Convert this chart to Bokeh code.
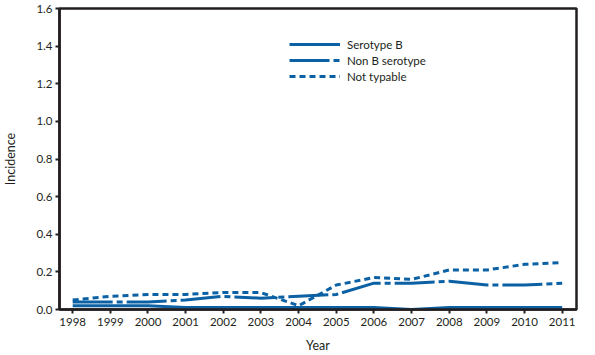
from bokeh.plotting import figure
from bokeh.models import Range1d, FixedTicker, Legend, LegendItem, NumeralTickFormatter
from bokeh.embed import file_html
from bokeh.resources import INLINE

years = list(range(1998, 2012))
serotype_b = [0.02, 0.02, 0.02, 0.01, 0.01, 0.01, 0.01, 0.01, 0.01, 0.00, 0.01, 0.01, 0.01, 0.01]
non_b = [0.04, 0.04, 0.04, 0.05, 0.07, 0.06, 0.07, 0.08, 0.14, 0.14, 0.15, 0.13, 0.13, 0.14]
not_typable = [0.05, 0.07, 0.08, 0.08, 0.09, 0.09, 0.02, 0.13, 0.17, 0.16, 0.21, 0.21, 0.24, 0.25]
y_ticks = [0.0, 0.2, 0.4, 0.6, 0.8, 1.0, 1.2, 1.4, 1.6]

BLUE = "#0b61a4"
DARK = "#231f20"
FONT = "Lato"

p = figure(width=595, height=355, output_backend="svg", toolbar_location=None,
           x_range=Range1d(1997.65, 2011.38), y_range=Range1d(0, 1.6),
           min_border_left=58, min_border_right=19, min_border_top=8, min_border_bottom=45)
p.grid.visible = False
p.background_fill_color = "white"
p.border_fill_color = "white"
p.outline_line_color = DARK
p.outline_line_width = 2.5

r1 = p.line(years, serotype_b, line_color=BLUE, line_width=3)
r2 = p.line(years, non_b, line_color=BLUE, line_width=3, line_dash="40 4 6 4")
r3 = p.line(years, not_typable, line_color=BLUE, line_width=3, line_dash="6 4")

for ax in (p.xaxis[0], p.yaxis[0]):
    ax.axis_line_color = DARK
    ax.axis_line_width = 2.5
    ax.major_tick_line_color = DARK
    ax.major_tick_line_width = 2
    ax.major_tick_out = 4
    ax.major_tick_in = 0
    ax.minor_tick_line_color = None
    ax.major_label_text_font = FONT
    ax.major_label_text_font_size = "11.5px"
    ax.major_label_text_color = DARK
    ax.axis_label_text_font = FONT
    ax.axis_label_text_font_size = "12.5px"
    ax.axis_label_text_font_style = "normal"
    ax.axis_label_text_color = DARK

p.xaxis.ticker = FixedTicker(ticks=years)
p.xaxis.axis_label = "Year"
p.xaxis.major_label_standoff = 4
p.xaxis.axis_label_standoff = 9
p.yaxis.ticker = FixedTicker(ticks=y_ticks)
p.yaxis.formatter = NumeralTickFormatter(format="0.0")
p.yaxis.axis_label = "Incidence"
p.yaxis.major_label_standoff = 3
p.yaxis.axis_label_standoff = 15

legend = Legend(items=[LegendItem(label="Serotype B", renderers=[r1]),
                       LegendItem(label="Non B serotype", renderers=[r2]),
                       LegendItem(label="Not typable", renderers=[r3])],
                location=(230, 225))
legend.margin = 0
legend.padding = 10
legend.glyph_width = 51
legend.glyph_height = 16
legend.spacing = 0
legend.label_text_font = FONT
legend.label_text_font_size = "11.5px"
legend.label_text_color = DARK
legend.border_line_color = None
legend.background_fill_alpha = 0
legend.label_standoff = 7
p.add_layout(legend)

open("out.html", "w").write(file_html(p, INLINE))
